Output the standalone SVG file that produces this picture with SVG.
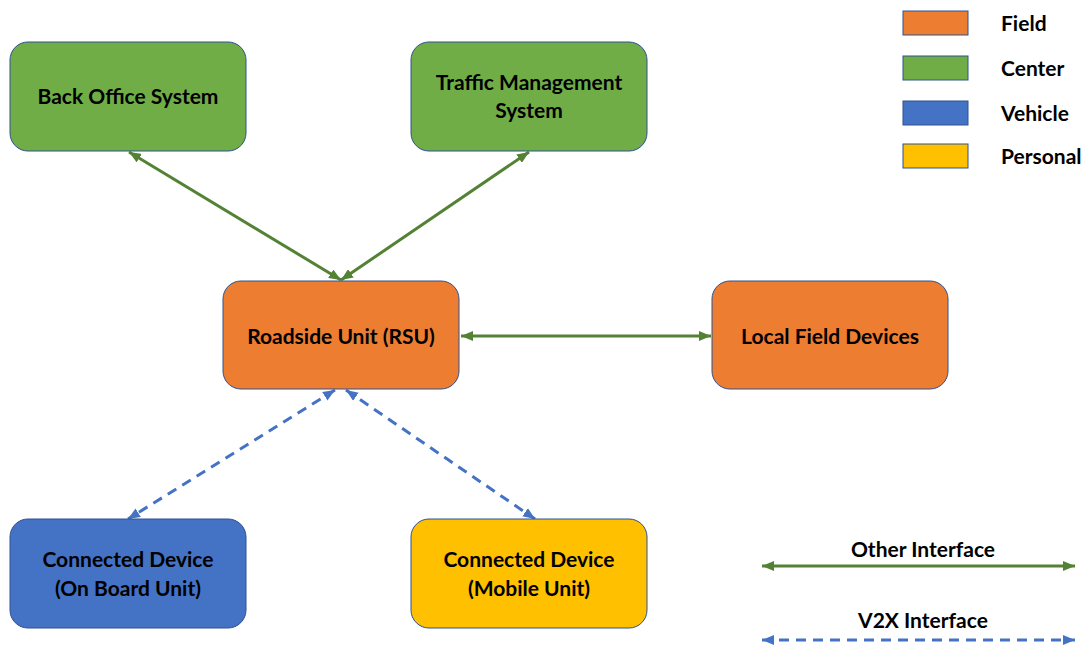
<svg xmlns="http://www.w3.org/2000/svg" width="1089" height="647" viewBox="0 0 1089 647">
<style>
.box{stroke:#2F528F;stroke-width:1}
.t{font-family:Lato,"Liberation Sans",sans-serif;font-weight:bold;font-size:21px;fill:#000;text-anchor:middle;dominant-baseline:central}
.lt{font-family:Lato,"Liberation Sans",sans-serif;font-weight:bold;font-size:21px;fill:#000;dominant-baseline:central}
.g{stroke:#548235;stroke-width:3;fill:none}
.b{stroke:#4472C4;stroke-width:3;fill:none;stroke-dasharray:10 7}
</style>
<defs>
<marker id="ag" viewBox="0 0 12 10" refX="12" refY="5" markerWidth="12" markerHeight="10" markerUnits="userSpaceOnUse" orient="auto-start-reverse"><path d="M0,0 L12,5 L0,10 Z" fill="#548235"/></marker>
<marker id="ab" viewBox="0 0 12 10" refX="12" refY="5" markerWidth="12" markerHeight="10" markerUnits="userSpaceOnUse" orient="auto-start-reverse"><path d="M0,0 L12,5 L0,10 Z" fill="#4472C4"/></marker>
</defs>
<g id="connectors">
<line class="g" x1="129" y1="152" x2="341" y2="280" marker-start="url(#ag)" marker-end="url(#ag)"/>
<line class="g" x1="529" y1="152" x2="341" y2="280" marker-start="url(#ag)" marker-end="url(#ag)"/>
<line class="g" x1="461" y1="336" x2="711" y2="336" marker-start="url(#ag)" marker-end="url(#ag)"/>
<line class="b" x1="335" y1="390" x2="128" y2="519" marker-start="url(#ab)" marker-end="url(#ab)"/>
<line class="b" x1="346" y1="390" x2="535" y2="519" marker-start="url(#ab)" marker-end="url(#ab)"/>
</g>
<g id="bos"><rect class="box" x="10" y="42" width="236" height="109" rx="18" fill="#70AD47"/><text class="t" x="128" y="95">Back Office System</text></g>
<g id="tms"><rect class="box" x="411" y="42" width="236" height="109" rx="18" fill="#70AD47"/><text class="t" x="529" y="81">Traffic Management</text><text class="t" x="529" y="109">System</text></g>
<g id="rsu"><rect class="box" x="223" y="281" width="236" height="108" rx="18" fill="#ED7D31"/><text class="t" x="341" y="335">Roadside Unit (RSU)</text></g>
<g id="lfd"><rect class="box" x="712" y="281" width="236" height="108" rx="18" fill="#ED7D31"/><text class="t" x="830" y="335">Local Field Devices</text></g>
<g id="obu"><rect class="box" x="10" y="519" width="236" height="109" rx="18" fill="#4472C4"/><text class="t" x="128" y="558">Connected Device</text><text class="t" x="128" y="587">(On Board Unit)</text></g>
<g id="mobile"><rect class="box" x="411" y="519" width="236" height="109" rx="18" fill="#FFC000"/><text class="t" x="529" y="558">Connected Device</text><text class="t" x="529" y="587">(Mobile Unit)</text></g>
<g id="legend">
<rect class="box" x="903" y="11" width="65" height="24" fill="#ED7D31"/><text class="lt" x="1001" y="22">Field</text>
<rect class="box" x="903" y="56" width="65" height="24" fill="#70AD47"/><text class="lt" x="1001" y="67">Center</text>
<rect class="box" x="903" y="101" width="65" height="24" fill="#4472C4"/><text class="lt" x="1001" y="112">Vehicle</text>
<rect class="box" x="903" y="144" width="65" height="24" fill="#FFC000"/><text class="lt" x="1001" y="155">Personal</text>
<text class="t" x="923" y="548">Other Interface</text>
<line class="g" x1="762" y1="566" x2="1075" y2="566" marker-start="url(#ag)" marker-end="url(#ag)"/>
<text class="t" x="923" y="619">V2X Interface</text>
<line class="b" x1="762" y1="640" x2="1075" y2="640" marker-start="url(#ab)" marker-end="url(#ab)"/>
</g>
</svg>
